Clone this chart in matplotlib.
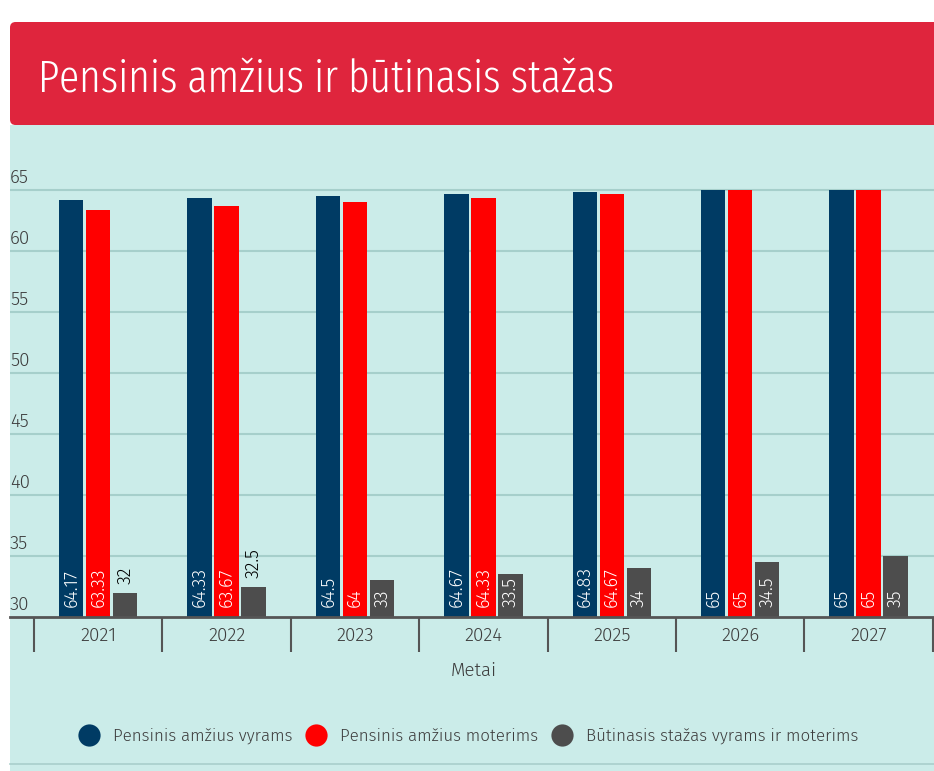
import matplotlib
matplotlib.use("Agg")
import matplotlib.pyplot as plt
import numpy as np
from matplotlib.patches import FancyBboxPatch, Rectangle
from matplotlib.lines import Line2D

years = ["2021", "2022", "2023", "2024", "2025", "2026", "2027"]
men_age = [64.17, 64.33, 64.5, 64.67, 64.83, 65, 65]
women_age = [63.33, 63.67, 64, 64.33, 64.67, 65, 65]
service = [32, 32.5, 33, 33.5, 34, 34.5, 35]
men_lbl = ["64.17", "64.33", "64.5", "64.67", "64.83", "65", "65"]
women_lbl = ["63.33", "63.67", "64", "64.33", "64.67", "65", "65"]
service_lbl = ["32", "32.5", "33", "33.5", "34", "34.5", "35"]
series_names = ["Pensinis amžius vyrams", "Pensinis amžius moterims",
                "Būtinasis stažas vyrams ir moterims"]
y_ticks = [30, 35, 40, 45, 50, 55, 60, 65]
title = "Pensinis amžius ir būtinasis stažas"
x_title = "Metai"

C_NAVY = "#003b64"
C_RED = "#ff0000"
C_GRAY = "#4d4d4d"
C_PANEL = "#cbece9"
C_HEAD = "#df253d"
C_GRID = "#a6cfcb"
C_TXT = "#3d3d3d"

body_font = ["Fira Sans", "DejaVu Sans"]
title_font = ["Fira Sans Extra Condensed", "Fira Sans Condensed", "DejaVu Sans"]

W, H = 934, 771
fig = plt.figure(figsize=(W / 100, H / 100), dpi=100)
fig.patch.set_facecolor("white")

def fx(px):
    return px / W

def fy(py):
    return 1 - py / H

fig.patches.append(Rectangle((fx(10), 0), fx(934) - fx(10), fy(125), transform=fig.transFigure,
                             facecolor=C_PANEL, edgecolor="none", zorder=-5))
fig.patches.append(FancyBboxPatch((fx(10), fy(125)), fx(940) - fx(10), fy(22) - fy(125),
                                  boxstyle="round,pad=0,rounding_size=0.006",
                                  transform=fig.transFigure, facecolor=C_HEAD,
                                  edgecolor="none", zorder=-4, mutation_aspect=W / H))
fig.text(fx(38), fy(92), title, color="white", fontsize=32.5, family=title_font,
         weight=300, va="baseline", ha="left", zorder=3)

# axes
ax_left, ax_right = 10, 934
ax_top, ax_bot = 150, 617
ax = fig.add_axes([fx(ax_left), fy(ax_bot), fx(ax_right) - fx(ax_left), fy(ax_top) - fy(ax_bot)])
ax.set_zorder(2)
ax.set_facecolor("none")
group_px = 128.4
x0 = -0.5 - (34 - ax_left) / group_px
x1 = x0 + (ax_right - ax_left) / group_px
ax.set_xlim(x0, x1)
ppu = (617 - 190) / 35.0
ax.set_ylim(30, 30 + (ax_bot - ax_top) / ppu)

x = np.arange(len(years))
bw = 0.19
off = 0.21
ax.bar(x - off, np.array(men_age) - 30, bw, bottom=30, color=C_NAVY, zorder=3)
ax.bar(x, np.array(women_age) - 30, bw, bottom=30, color=C_RED, zorder=3)
ax.bar(x + off, np.array(service) - 30, bw, bottom=30, color=C_GRAY, zorder=3)

lblsize = 13
lbl_base = 30.8
for xi, lab in zip(x - off, men_lbl):
    ax.text(xi, lbl_base, lab, rotation=90, ha="center", va="bottom", color="white",
            fontsize=lblsize, family=body_font, weight=300, zorder=4)
for xi, lab in zip(x, women_lbl):
    ax.text(xi, lbl_base, lab, rotation=90, ha="center", va="bottom", color="white",
            fontsize=lblsize, family=body_font, weight=300, zorder=4)
for xi, v, lab in zip(x + off, service, service_lbl):
    if v - 30 < 2.8:
        ax.text(xi, v + 0.7, lab, rotation=90, ha="center", va="bottom", color="black",
                fontsize=lblsize, family=body_font, weight=300, zorder=4)
    else:
        ax.text(xi, lbl_base, lab, rotation=90, ha="center", va="bottom", color="white",
                fontsize=lblsize, family=body_font, weight=300, zorder=4)

for t in y_ticks:
    if t > 30:
        ax.axhline(t, color=C_GRID, lw=1.5, zorder=1)
    ax.text(x0, t + 0.3, str(t), ha="left", va="bottom", color=C_TXT,
            fontsize=13.5, family=body_font, weight=300, zorder=2)
ax.set_yticks([])

for s in ["top", "right", "left"]:
    ax.spines[s].set_visible(False)
ax.spines["bottom"].set_color("#555555")
ax.spines["bottom"].set_linewidth(2)
ax.spines["bottom"].set_zorder(5)

ax.set_xticks(x)
ax.set_xticklabels(years, fontsize=13.5, color=C_TXT, family=body_font, weight=300)
ax.set_xticks(np.arange(len(years) + 1) - 0.5, minor=True)
ax.tick_params(axis="x", which="major", length=0, pad=7)
ax.tick_params(axis="x", which="minor", length=25.2, width=1.5, color="#555555")

fig.text(fx(474), fy(671), x_title, ha="center", va="center", fontsize=13.5,
         color=C_TXT, family=body_font, weight=300)

handles = [Line2D([], [], marker="o", linestyle="none", markersize=16, color=c, markeredgewidth=0)
           for c in [C_NAVY, C_RED, C_GRAY]]
leg = fig.legend(handles, series_names, loc="center", bbox_to_anchor=(fx(467), fy(736)),
                 ncol=3, frameon=False, handletextpad=0.6, columnspacing=0.6,
                 handlelength=1.6, prop={"family": body_font, "size": 12.2, "weight": 300})
for t in leg.get_texts():
    t.set_color(C_TXT)

fig.add_artist(Line2D([fx(10), fx(934)], [fy(764), fy(764)], transform=fig.transFigure,
                      color="#a9cfcb", lw=1.2))

fig.savefig("out.png", dpi=100, facecolor="white")
